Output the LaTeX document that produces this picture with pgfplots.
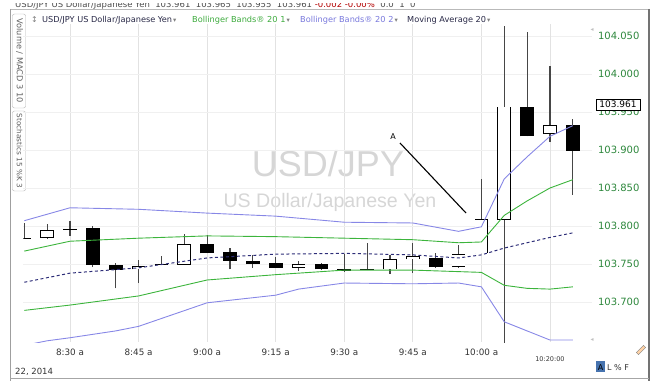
\documentclass[border=0pt]{standalone}
\usepackage{fontspec}
\setmainfont{DejaVu Sans}
\newfontfamily\libsans{Liberation Sans}
\usepackage{pgfplots}
\pgfplotsset{compat=1.18}
\newcommand{\fs}[1]{\fontsize{#1}{#1}\selectfont}
\definecolor{bandblue}{RGB}{135,135,230}
\definecolor{bandgreen}{RGB}{60,180,60}
\definecolor{manavy}{RGB}{45,45,120}
\definecolor{wickc}{RGB}{70,70,70}
\definecolor{gridc}{RGB}{226,226,226}
\definecolor{pricegreen}{RGB}{45,135,60}
\definecolor{wmgray}{RGB}{214,214,214}
\definecolor{legdark}{RGB}{40,40,70}
\definecolor{leggreen}{RGB}{60,170,60}
\definecolor{legblue}{RGB}{120,120,220}
\definecolor{tabgray}{RGB}{95,95,95}
\definecolor{abox}{RGB}{70,115,175}
% candle pieces
\newcommand{\wick}[3]{\addplot[wickc, line width=1.1pt] coordinates {(#1,#2)(#1,#3)};}
\newcommand{\bodyb}[3]{\addplot[black, line width=13.7pt, line cap=butt] coordinates {(#1,#2)(#1,#3)};}
\newcommand{\bodyw}[3]{\bodyb{#1}{#2}{#3}\addplot[white, line width=12.1pt, line cap=butt, shorten <=0.8pt, shorten >=0.8pt] coordinates {(#1,#2)(#1,#3)};}
% candle: x, low, body low, body high, high, w/b
\newcommand{\cdl}[6]{\wick{#1}{#2}{#5}\csname body#6\endcsname{#1}{#3}{#4}}
\newcommand{\dd}{\textcolor{gray}{\fs{6.5}\,▾}}
\begin{document}
\begin{tikzpicture}
\path[use as bounding box] (0pt,0pt) rectangle (660pt,381pt);
% cut top row
\begin{scope}
\clip (10pt,372pt) rectangle (649pt,377pt);
\node[anchor=base west, inner sep=0pt, text=black!70] at (15pt,373pt) {\fs{8.5}USD/JPY US Dollar/Japanese Yen \ 103.961 \ 103.965 \ 103.955 \ 103.961 \textcolor{red!70!black}{-0.002 -0.00\%} \ 0.0 \ 1 \ 0};
\end{scope}
% frame
\draw[gray!55, line width=0.8pt] (10pt,372pt) -- (649pt,372pt);
\draw[gray!75, line width=1pt] (10pt,372pt) -- (10pt,0pt);
\draw[gray!90!black, line width=1.5pt] (649pt,372pt) -- (649pt,0pt);
\draw[gray!70, line width=0.8pt] (10pt,3pt) -- (649pt,3pt);
% tabs
\draw[gray!60, rounded corners=2pt] (12.5pt,367pt) rectangle (25.5pt,273pt);
\node[rotate=-90, text=tabgray, inner sep=0pt] at (19.5pt,320.5pt) {\fs{8.2}Volume / MACD 3 10};
\draw[gray!60, rounded corners=2pt] (12.5pt,270pt) rectangle (25.5pt,190pt);
\node[rotate=-90, text=tabgray, inner sep=0pt] at (19.5pt,230pt) {\fs{7.3}Stochastics 15 \%K 3};
% legend row
\node[anchor=base west, inner sep=0pt, text=gray] at (31pt,358pt) {\fs{8}↕};
\node[anchor=base west, inner sep=0pt, text=legdark] at (42pt,358pt) {\fs{8.2}USD/JPY US Dollar/Japanese Yen\dd};
\node[anchor=base west, inner sep=0pt, text=leggreen] at (192pt,358pt) {\fs{8.2}Bollinger Bands® 20 1\dd};
\node[anchor=base west, inner sep=0pt, text=legblue] at (300pt,358pt) {\fs{8.2}Bollinger Bands® 20 2\dd};
\node[anchor=base west, inner sep=0pt, text=legdark] at (407pt,358pt) {\fs{8.2}Moving Average 20\dd};
% watermark
\node[text=wmgray, inner sep=0pt] at (328pt,217pt) {\libsans\fs{36}USD/JPY};
\node[text=wmgray, inner sep=0pt] at (330pt,179pt) {\libsans\fs{19.6}US Dollar/Japanese Yen};
\begin{axis}[
  at={(23.4pt,39pt)}, anchor=south west, scale only axis,
  width=568.6pt, height=318pt,
  xmin=19.8, xmax=144.2, ymin=103.6474, ymax=104.0658,
  axis line style={draw=none}, major tick length=0pt,
  xtick={30,45,60,75,90,105,120},
  xticklabels={8:30 a,8:45 a,9:00 a,9:15 a,9:30 a,9:45 a,10:00 a},
  extra x ticks={135}, extra x tick labels={10:20:00},
  extra x tick style={xmajorgrids=true, xticklabel style={font=\fs{6.5}, yshift=-8pt}},
  xmajorgrids, ymajorgrids,
  x grid style={draw=gridc, line width=0.8pt},
  y grid style={draw=black!6, line width=0.6pt},
  ytick={103.70,103.75,103.80,103.85,103.90,103.95,104.00,104.05},
  yticklabel pos=right,
  /pgf/number format/assume math mode=true,
  yticklabel style={/pgf/number format/fixed, /pgf/number format/fixed zerofill,
    /pgf/number format/precision=3, /pgf/number format/1000 sep={},
    font=\fs{10}, text=pricegreen, anchor=west, xshift=2.5pt},
  xticklabel style={font=\fs{8.8}, text=black!80, yshift=-3pt},
]
\cdl{20}{103.783}{103.783}{103.7842}{103.804}{b}
\cdl{25}{103.783}{103.784}{103.795}{103.803}{w}
\cdl{30}{103.787}{103.7955}{103.7967}{103.807}{b}
\cdl{35}{103.746}{103.749}{103.797}{103.800}{b}
\cdl{40}{103.718}{103.742}{103.749}{103.751}{b}
\cdl{45}{103.725}{103.743}{103.747}{103.755}{w}
\cdl{50}{103.749}{103.749}{103.750}{103.761}{b}
\cdl{55}{103.749}{103.749}{103.776}{103.789}{w}
\cdl{60}{103.764}{103.764}{103.776}{103.788}{b}
\cdl{65}{103.743}{103.754}{103.766}{103.771}{b}
\cdl{70}{103.745}{103.750}{103.754}{103.762}{b}
\cdl{75}{103.745}{103.745}{103.751}{103.759}{b}
\cdl{80}{103.741}{103.745}{103.750}{103.754}{w}
\cdl{85}{103.742}{103.743}{103.750}{103.752}{b}
\cdl{90}{103.740}{103.741}{103.743}{103.763}{b}
\cdl{95}{103.742}{103.742}{103.743}{103.778}{b}
\cdl{100}{103.737}{103.743}{103.757}{103.762}{w}
\cdl{105}{103.738}{103.756}{103.760}{103.778}{w}
\cdl{110}{103.745}{103.746}{103.758}{103.764}{b}
\cdl{115}{103.745}{103.746}{103.763}{103.775}{w}
\cdl{120}{103.764}{103.764}{103.809}{103.862}{w}
\cdl{125}{103.640}{103.808}{103.957}{104.063}{w}
\cdl{130}{103.918}{103.918}{103.957}{104.055}{b}
\cdl{135}{103.911}{103.921}{103.933}{104.011}{w}
\cdl{140}{103.841}{103.899}{103.933}{103.941}{b}
% Bollinger 20 2 (outer)
\addplot[bandblue, line width=0.9pt] coordinates {(20,103.807)(30,103.824)(45,103.822)(60,103.817)(75,103.813)(90,103.805)(105,103.804)(115,103.793)(120,103.799)(125,103.862)(130,103.891)(135,103.918)(140,103.932)};
\addplot[bandblue, line width=0.9pt] coordinates {(20,103.643)(25,103.649)(30,103.653)(40,103.662)(45,103.668)(60,103.699)(75,103.709)(80,103.717)(90,103.725)(105,103.724)(115,103.725)(120,103.720)(125,103.674)(135,103.650)(140,103.650)};
% Bollinger 20 1
\addplot[bandgreen, line width=0.9pt] coordinates {(20,103.767)(30,103.780)(45,103.784)(60,103.787)(75,103.786)(90,103.784)(105,103.782)(115,103.778)(120,103.779)(125,103.814)(130,103.833)(135,103.850)(140,103.861)};
\addplot[bandgreen, line width=0.9pt] coordinates {(20,103.689)(30,103.696)(45,103.708)(60,103.729)(75,103.736)(90,103.742)(105,103.742)(120,103.739)(125,103.722)(130,103.718)(135,103.717)(140,103.720)};
% Moving average 20
\addplot[manavy, line width=1pt, dash pattern=on 3pt off 2.5pt] coordinates {(20,103.726)(30,103.738)(45,103.745)(60,103.758)(75,103.763)(90,103.764)(105,103.762)(115,103.758)(120,103.762)(125,103.771)(130,103.778)(135,103.785)(140,103.791)};
\end{axis}
% annotation A
\draw[black, line width=1.1pt] (400pt,238pt) -- (466pt,168pt);
\node[inner sep=0pt] at (393pt,244pt) {\fs{8}A};
% last price box
\draw[black, fill=white, line width=0.6pt] (596pt,271pt) rectangle (640pt,282pt);
\node[inner sep=0pt] at (618pt,276.5pt) {\fs{9}103.961};
% scroll arrows
\node[text=gray!50, inner sep=0pt] at (592pt,351pt) {\fs{6}◂};
\node[text=gray!50, inner sep=0pt] at (592pt,41pt) {\fs{6}◂};
% bottom texts
\node[anchor=base west, inner sep=0pt, text=black!80] at (15pt,7pt) {\fs{8.5}22, 2014};
\fill[abox] (596pt,9pt) rectangle (605pt,20pt);
\node[anchor=base, inner sep=0pt] at (600.5pt,11pt) {\fs{8}A};
\node[anchor=base west, inner sep=0pt, text=black!80] at (607pt,11pt) {\fs{8}L \% F};
\draw[gray, fill=orange!35, rotate around={45:(641pt,31pt)}] (636pt,29.5pt) rectangle (646pt,32.5pt);
\end{tikzpicture}
\end{document}
